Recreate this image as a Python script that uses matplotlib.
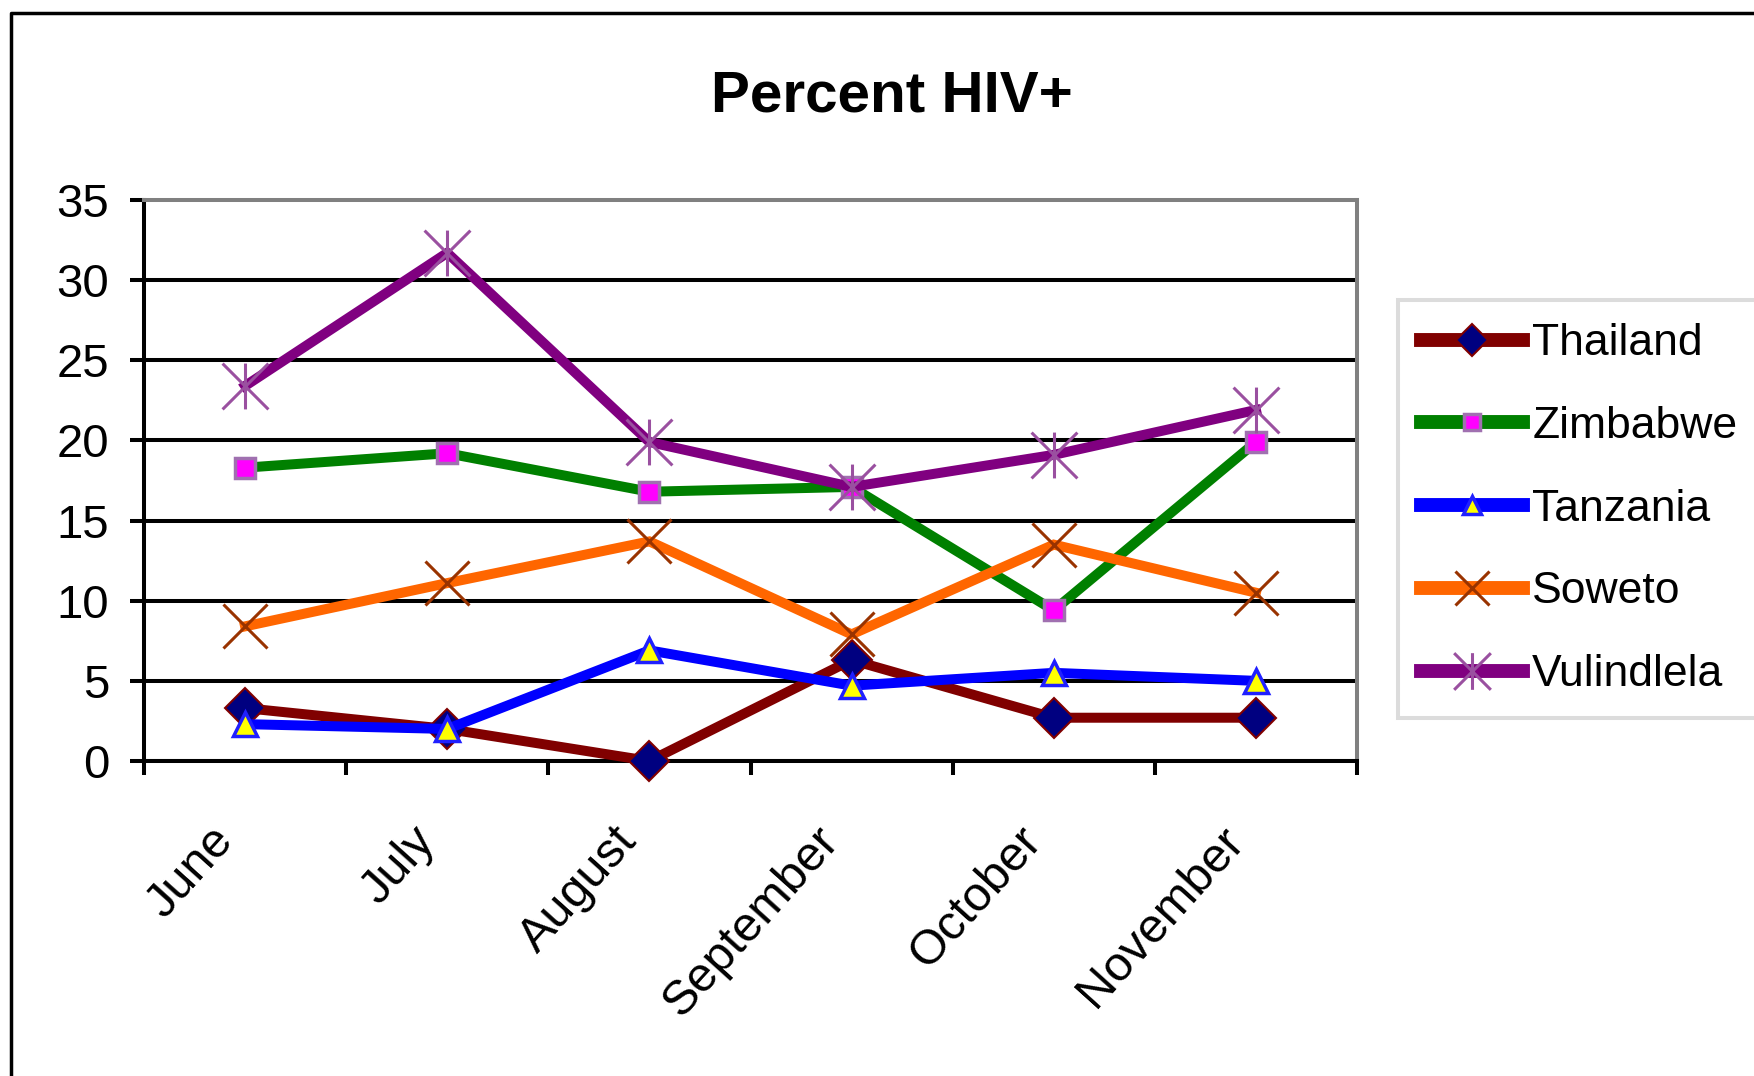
import matplotlib
matplotlib.use("Agg")
import matplotlib.pyplot as plt
import matplotlib.transforms as mtransforms
from matplotlib.lines import Line2D
from matplotlib.path import Path
import numpy as np

plt.rcParams['font.family'] = ['Liberation Sans', 'DejaVu Sans']

# ---- data ----
months = ["June", "July", "August", "September", "October", "November"]
thailand = [3.3, 2.0, 0.0, 6.3, 2.7, 2.7]
zimbabwe = [18.3, 19.2, 16.8, 17.1, 9.4, 19.9]
tanzania = [2.3, 2.0, 6.9, 4.7, 5.5, 5.0]
soweto = [8.4, 11.1, 13.7, 7.9, 13.5, 10.5]
vulindlela = [23.4, 31.7, 19.9, 17.1, 19.1, 21.9]
series_names = ["Thailand", "Zimbabwe", "Tanzania", "Soweto", "Vulindlela"]
y_ticks = [0, 5, 10, 15, 20, 25, 30, 35]

# asterisk marker (x with vertical bar)
ast = Path([(-0.5, -0.5), (0.5, 0.5), (-0.5, 0.5), (0.5, -0.5), (0, -0.5), (0, 0.5)],
           [Path.MOVETO, Path.LINETO] * 3)

W, H = 1754, 1076
fig = plt.figure(figsize=(W / 100, H / 100), dpi=100)
fig.patch.set_facecolor('white')
ax = fig.add_axes([144 / W, 1 - 761 / H, (1357 - 144) / W, (761 - 200) / H])

x = np.arange(len(months))
lw = 7.2
styles = [
    dict(color='#800000', marker='D', ms=20, mfc='#000080', mec='#800000', mew=1.5),
    dict(color='#008000', marker='s', ms=15, mfc='#FF00FF', mec='#A070B0', mew=2.5),
    dict(color='#0000FF', marker='^', ms=17, mfc='#FFFF00', mec='#2020FF', mew=2.5),
    dict(color='#FF6600', marker='x', ms=31, mec='#993300', mew=2.2),
    dict(color='#800080', marker=ast, ms=33, mfc='none', mec='#9A50A0', mew=2.2),
]
data = [thailand, zimbabwe, tanzania, soweto, vulindlela]
for name, vals, st in zip(series_names, data, styles):
    ax.plot(x, vals, lw=lw, label=name, clip_on=False, zorder=3,
            solid_joinstyle='miter', **st)

ax.set_xlim(-0.5, len(months) - 0.5)
ax.set_ylim(0, 35)
ax.set_yticks(y_ticks)
ax.set_yticklabels([str(v) for v in y_ticks])
ax.set_xticks(np.arange(-0.5, len(months), 1.0))
ax.set_xticklabels([])
ax.set_xticks(x, minor=True)
ax.set_xticklabels(months, minor=True, rotation=48, ha='right', va='center',
                   rotation_mode='anchor')

ax.set_axisbelow(True)
ax.yaxis.grid(True, color='black', lw=2.9)
ax.yaxis.get_gridlines()[-1].set_visible(False)

ax.tick_params(axis='y', length=10, width=2.9, pad=15, labelsize=34, color='black')
ax.tick_params(axis='x', which='major', length=10, width=2.9, color='black')
ax.tick_params(axis='x', which='minor', length=0, pad=52, labelsize=35)

for s in ['left', 'bottom']:
    ax.spines[s].set_color('black')
    ax.spines[s].set_linewidth(2.9)
for s in ['top', 'right']:
    ax.spines[s].set_color('#808080')
    ax.spines[s].set_linewidth(2.9)

offset = mtransforms.ScaledTranslation(-20 / 100, 0, fig.dpi_scale_trans)
for lbl in ax.xaxis.get_minorticklabels():
    lbl.set_transform(lbl.get_transform() + offset)

fig.text(892 / W, 1 - 112 / H, "Percent HIV+", ha='center', va='baseline',
         fontsize=42, fontweight='bold')

leg = ax.legend(loc='upper left', bbox_to_anchor=(1398 / W, 1 - 300 / H),
                bbox_transform=fig.transFigure, borderaxespad=0, fontsize=32,
                frameon=True, fancybox=False, edgecolor='#D4D4D4',
                handlelength=2.3, handletextpad=0.2, labelspacing=0.94,
                borderpad=0.52, numpoints=1, markerscale=0.8)
leg.get_frame().set_linewidth(2.9)
for ln in leg.get_lines():
    ln.set_linewidth(10)

fig.add_artist(Line2D([11 / W, 11 / W, 1.0], [0, 1 - 13 / H, 1 - 13 / H],
                      transform=fig.transFigure, color='black', lw=2.5))

fig.savefig("out.png", dpi=100, facecolor='white')
